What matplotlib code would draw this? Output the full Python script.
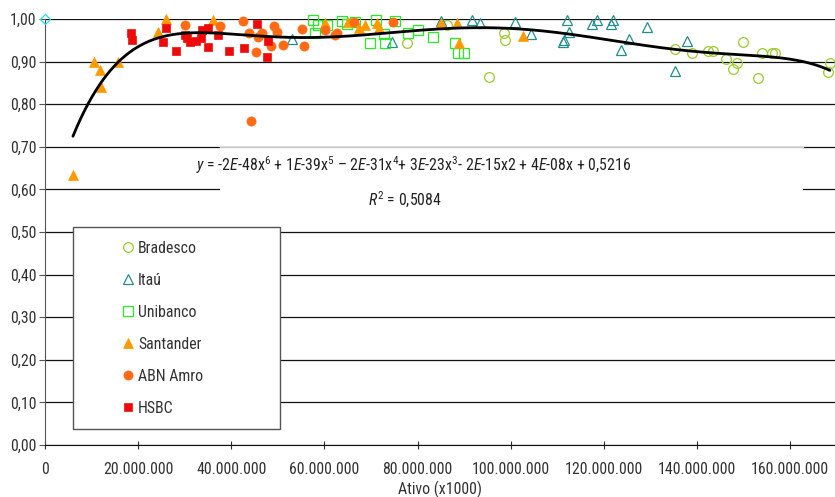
import numpy as np
import matplotlib
matplotlib.use("Agg")
import matplotlib.pyplot as plt
from matplotlib import font_manager as fm
from matplotlib.patches import Rectangle
from matplotlib.ticker import FuncFormatter

# ---- data (x = Ativo in millions of the x1000 unit) ----
bradesco_x = [77.7, 86.3, 95.3, 98.5, 98.7, 135.2, 138.8, 142.3, 143.4, 146.1,
              147.6, 148.5, 149.8, 153.0, 153.9, 156.0, 156.7, 168.5, 168.0]
bradesco_y = [0.944, 0.986, 0.864, 0.967, 0.951, 0.929, 0.920, 0.925, 0.925, 0.906,
              0.883, 0.897, 0.946, 0.861, 0.920, 0.920, 0.920, 0.897, 0.876]

itau_x = [53.0, 74.6, 85.1, 91.7, 93.4, 100.9, 104.3, 111.2, 111.4, 112.0,
          112.4, 117.4, 118.5, 121.5, 121.9, 123.6, 125.3, 129.2, 135.2, 137.8]
itau_y = [0.953, 0.945, 0.995, 0.998, 0.991, 0.993, 0.965, 0.946, 0.951, 0.998,
          0.970, 0.988, 0.998, 0.988, 0.998, 0.927, 0.953, 0.981, 0.878, 0.948]

unibanco_x = [57.5, 57.9, 58.6, 60.5, 63.7, 64.8, 66.5, 69.7, 71.0, 72.8,
              73.0, 75.1, 77.9, 80.0, 83.3, 88.0, 88.6, 89.9]
unibanco_y = [0.998, 0.967, 0.986, 0.986, 0.995, 0.988, 0.993, 0.944, 0.998, 0.965,
              0.944, 0.995, 0.967, 0.974, 0.958, 0.944, 0.920, 0.920]

santander_x = [6.0, 10.5, 11.8, 12.0, 15.7, 24.2, 26.0, 36.1, 60.1, 65.0,
               67.5, 68.7, 71.2, 71.6, 85.0, 88.4, 88.9, 102.6]
santander_y = [0.634, 0.899, 0.880, 0.840, 0.899, 0.969, 1.000, 0.998, 0.990, 0.993,
               0.979, 0.986, 0.990, 0.979, 0.991, 0.991, 0.944, 0.960]

abn_x = [30.0, 37.6, 42.5, 43.8, 44.2, 45.3, 45.7, 46.6, 48.5, 49.1,
         49.8, 51.1, 55.2, 55.6, 60.1, 62.2, 62.7, 66.3, 74.7]
abn_y = [0.986, 0.984, 0.995, 0.967, 0.761, 0.923, 0.958, 0.967, 0.937, 0.984,
         0.970, 0.939, 0.977, 0.937, 0.974, 0.962, 0.967, 0.993, 0.993]

hsbc_x = [18.5, 18.7, 25.3, 26.0, 28.2, 30.0, 30.5, 31.1, 32.4, 33.5,
          33.7, 35.0, 35.0, 37.1, 39.5, 42.7, 45.5, 47.9, 47.6]
hsbc_y = [0.967, 0.951, 0.946, 0.979, 0.926, 0.962, 0.955, 0.946, 0.948, 0.955,
          0.974, 0.979, 0.934, 0.962, 0.925, 0.932, 0.988, 0.948, 0.911]

stray_x = [0.0]
stray_y = [1.0]

series_names = ["Bradesco", "Itaú", "Unibanco", "Santander", "ABN Amro", "HSBC"]
x_ticks = [0, 20, 40, 60, 80, 100, 120, 140, 160]
y_ticks = [0.0, 0.1, 0.2, 0.3, 0.4, 0.5, 0.6, 0.7, 0.8, 0.9, 1.0]

equation = (r"$y$ = -2$E$-48x$^6$ + 1$E$-39x$^5$ – 2$E$-31x$^4$+ 3$E$-23x$^3$"
            r"- 2$E$-15x2 + 4$E$-08x + 0,5216")
r2_text = r"$R^2$ = 0,5084"
xlabel = "Ativo (x1000)"

# ---- font choice: prefer a narrow sans if present ----
names = {f.name for f in fm.fontManager.ttflist}
family = "Liberation Sans"
for cand in ["Liberation Sans Narrow", "Roboto Condensed", "Open Sans Condensed",
             "Noto Sans Condensed", "Arial Narrow"]:
    if cand in names:
        family = cand
        break
if family not in names:
    family = "DejaVu Sans"

plt.rcParams["font.family"] = [family, "DejaVu Sans"]
plt.rcParams["mathtext.fontset"] = "custom"
plt.rcParams["mathtext.rm"] = family
plt.rcParams["mathtext.it"] = family + ":italic"

fig = plt.figure(figsize=(8.35, 4.97), dpi=100)
renderer = fig.canvas.get_renderer()


def text_size(s, size):
    t = fig.text(0, 0, s, fontsize=size)
    bb = t.get_window_extent(renderer)
    t.remove()
    return bb.width, bb.height


# scale font so "20.000.000" is ~70 px wide as in the reference
w10, _ = text_size("20.000.000", 10)
FS = 10 * 70.0 / w10
FS = min(FS, 12.5)
weq, _ = text_size(equation, FS)
FS_EQ = FS * 436.0 / weq

ax = fig.add_axes([45 / 835, 1 - 445 / 497, 790 / 835, 426 / 497])
ax.set_xlim(0, 169.6)
ax.set_ylim(0, 1.0)

ax.set_yticks(y_ticks)
ax.set_xticks(x_ticks)
ax.yaxis.set_major_formatter(FuncFormatter(lambda v, p: f"{v:.2f}".replace(".", ",")))
ax.xaxis.set_major_formatter(FuncFormatter(
    lambda v, p: "0" if v == 0 else f"{int(round(v * 1e6)):,}".replace(",", ".")))

ax.grid(axis="y", color="#111111", linewidth=0.9, zorder=0)
ax.set_axisbelow(True)
for s in ["top", "right"]:
    ax.spines[s].set_visible(False)
ax.spines["left"].set_color("#555555")
ax.spines["bottom"].set_color("#111111")
ax.tick_params(axis="y", length=4, color="#555555", labelsize=FS, labelcolor="#333333", pad=2)
ax.tick_params(axis="x", direction="inout", length=6, color="#333333", labelsize=FS,
               labelcolor="#333333", pad=9)
ax.set_xlabel(xlabel, fontsize=FS, color="#333333", labelpad=3)

# equation background box
ax.add_patch(Rectangle((0.2215, 0.54), 0.738, 0.16, transform=ax.transAxes,
                       facecolor="white", edgecolor="none", zorder=1))
ax.plot([0.2215, 0.9595], [0.70, 0.70], transform=ax.transAxes, color="#c8c8c8",
        linewidth=1, zorder=1.5)

styles = [
    dict(marker="o", ms=7.0, mfc="none", mec="#9CCB2C", mew=0.9),
    dict(marker="^", ms=7.0, mfc="none", mec="#238C8C", mew=0.9),
    dict(marker="s", ms=6.8, mfc="none", mec="#22EE22", mew=0.9),
    dict(marker="^", ms=7.0, mfc="#FF9900", mec="#FF9900", mew=0.5),
    dict(marker="o", ms=6.6, mfc="#FF6A13", mec="#FF6A13", mew=0.5),
    dict(marker="s", ms=6.4, mfc="#EE0A0A", mec="#EE0A0A", mew=0.5),
]
xs_all = [bradesco_x, itau_x, unibanco_x, santander_x, abn_x, hsbc_x]
ys_all = [bradesco_y, itau_y, unibanco_y, santander_y, abn_y, hsbc_y]

handles = []
for name, xs, ys, st in zip(series_names, xs_all, ys_all, styles):
    h, = ax.plot(xs, ys, linestyle="none", label=name, zorder=3, clip_on=False, **st)
    handles.append(h)

ax.plot(stray_x, stray_y, linestyle="none", marker="D", ms=5, mfc="none",
        mec="#22DDEE", mew=0.9, zorder=4, clip_on=False)

# polynomial trend line (degree 6) fitted to all bank points
all_x = np.concatenate([np.asarray(v, float) for v in xs_all])
all_y = np.concatenate([np.asarray(v, float) for v in ys_all])
coef = np.polyfit(all_x, all_y, 6)
tx = np.linspace(all_x.min(), all_x.max(), 400)
ax.plot(tx, np.polyval(coef, tx), color="black", linewidth=2.0, zorder=5,
        solid_capstyle="round")

ax.text(0.467, 0.657, equation, transform=ax.transAxes, ha="center", va="center",
        fontsize=FS_EQ, color="#222222", zorder=6)
ax.text(0.456, 0.575, r2_text, transform=ax.transAxes, ha="center", va="center",
        fontsize=FS_EQ, color="#222222", zorder=6)

# legend geometry (pixel targets from the reference)
fs_px = FS * 100 / 72.0
_, h_txt = text_size("Bradesco", FS)
borderpad = max((21.0 - h_txt / 2) / fs_px, 0.1)
labelspacing = (32.0 - h_txt) / fs_px
handlelength = 2 * (55.0 - borderpad * fs_px) / fs_px
handletextpad = (10.0 - handlelength * fs_px / 2) / fs_px

leg = ax.legend(handles=handles, loc="upper left",
                bbox_to_anchor=(28 / 790, 0.040, 207 / 790, 0.471),
                mode="expand", borderaxespad=0, fontsize=FS, frameon=True,
                fancybox=False, framealpha=1, edgecolor="#555555",
                borderpad=borderpad, labelspacing=labelspacing,
                handlelength=handlelength, handletextpad=handletextpad,
                numpoints=1, labelcolor="#333333")
leg.get_frame().set_linewidth(1.0)
leg.set_zorder(7)

fig.savefig("out.png", dpi=100)
